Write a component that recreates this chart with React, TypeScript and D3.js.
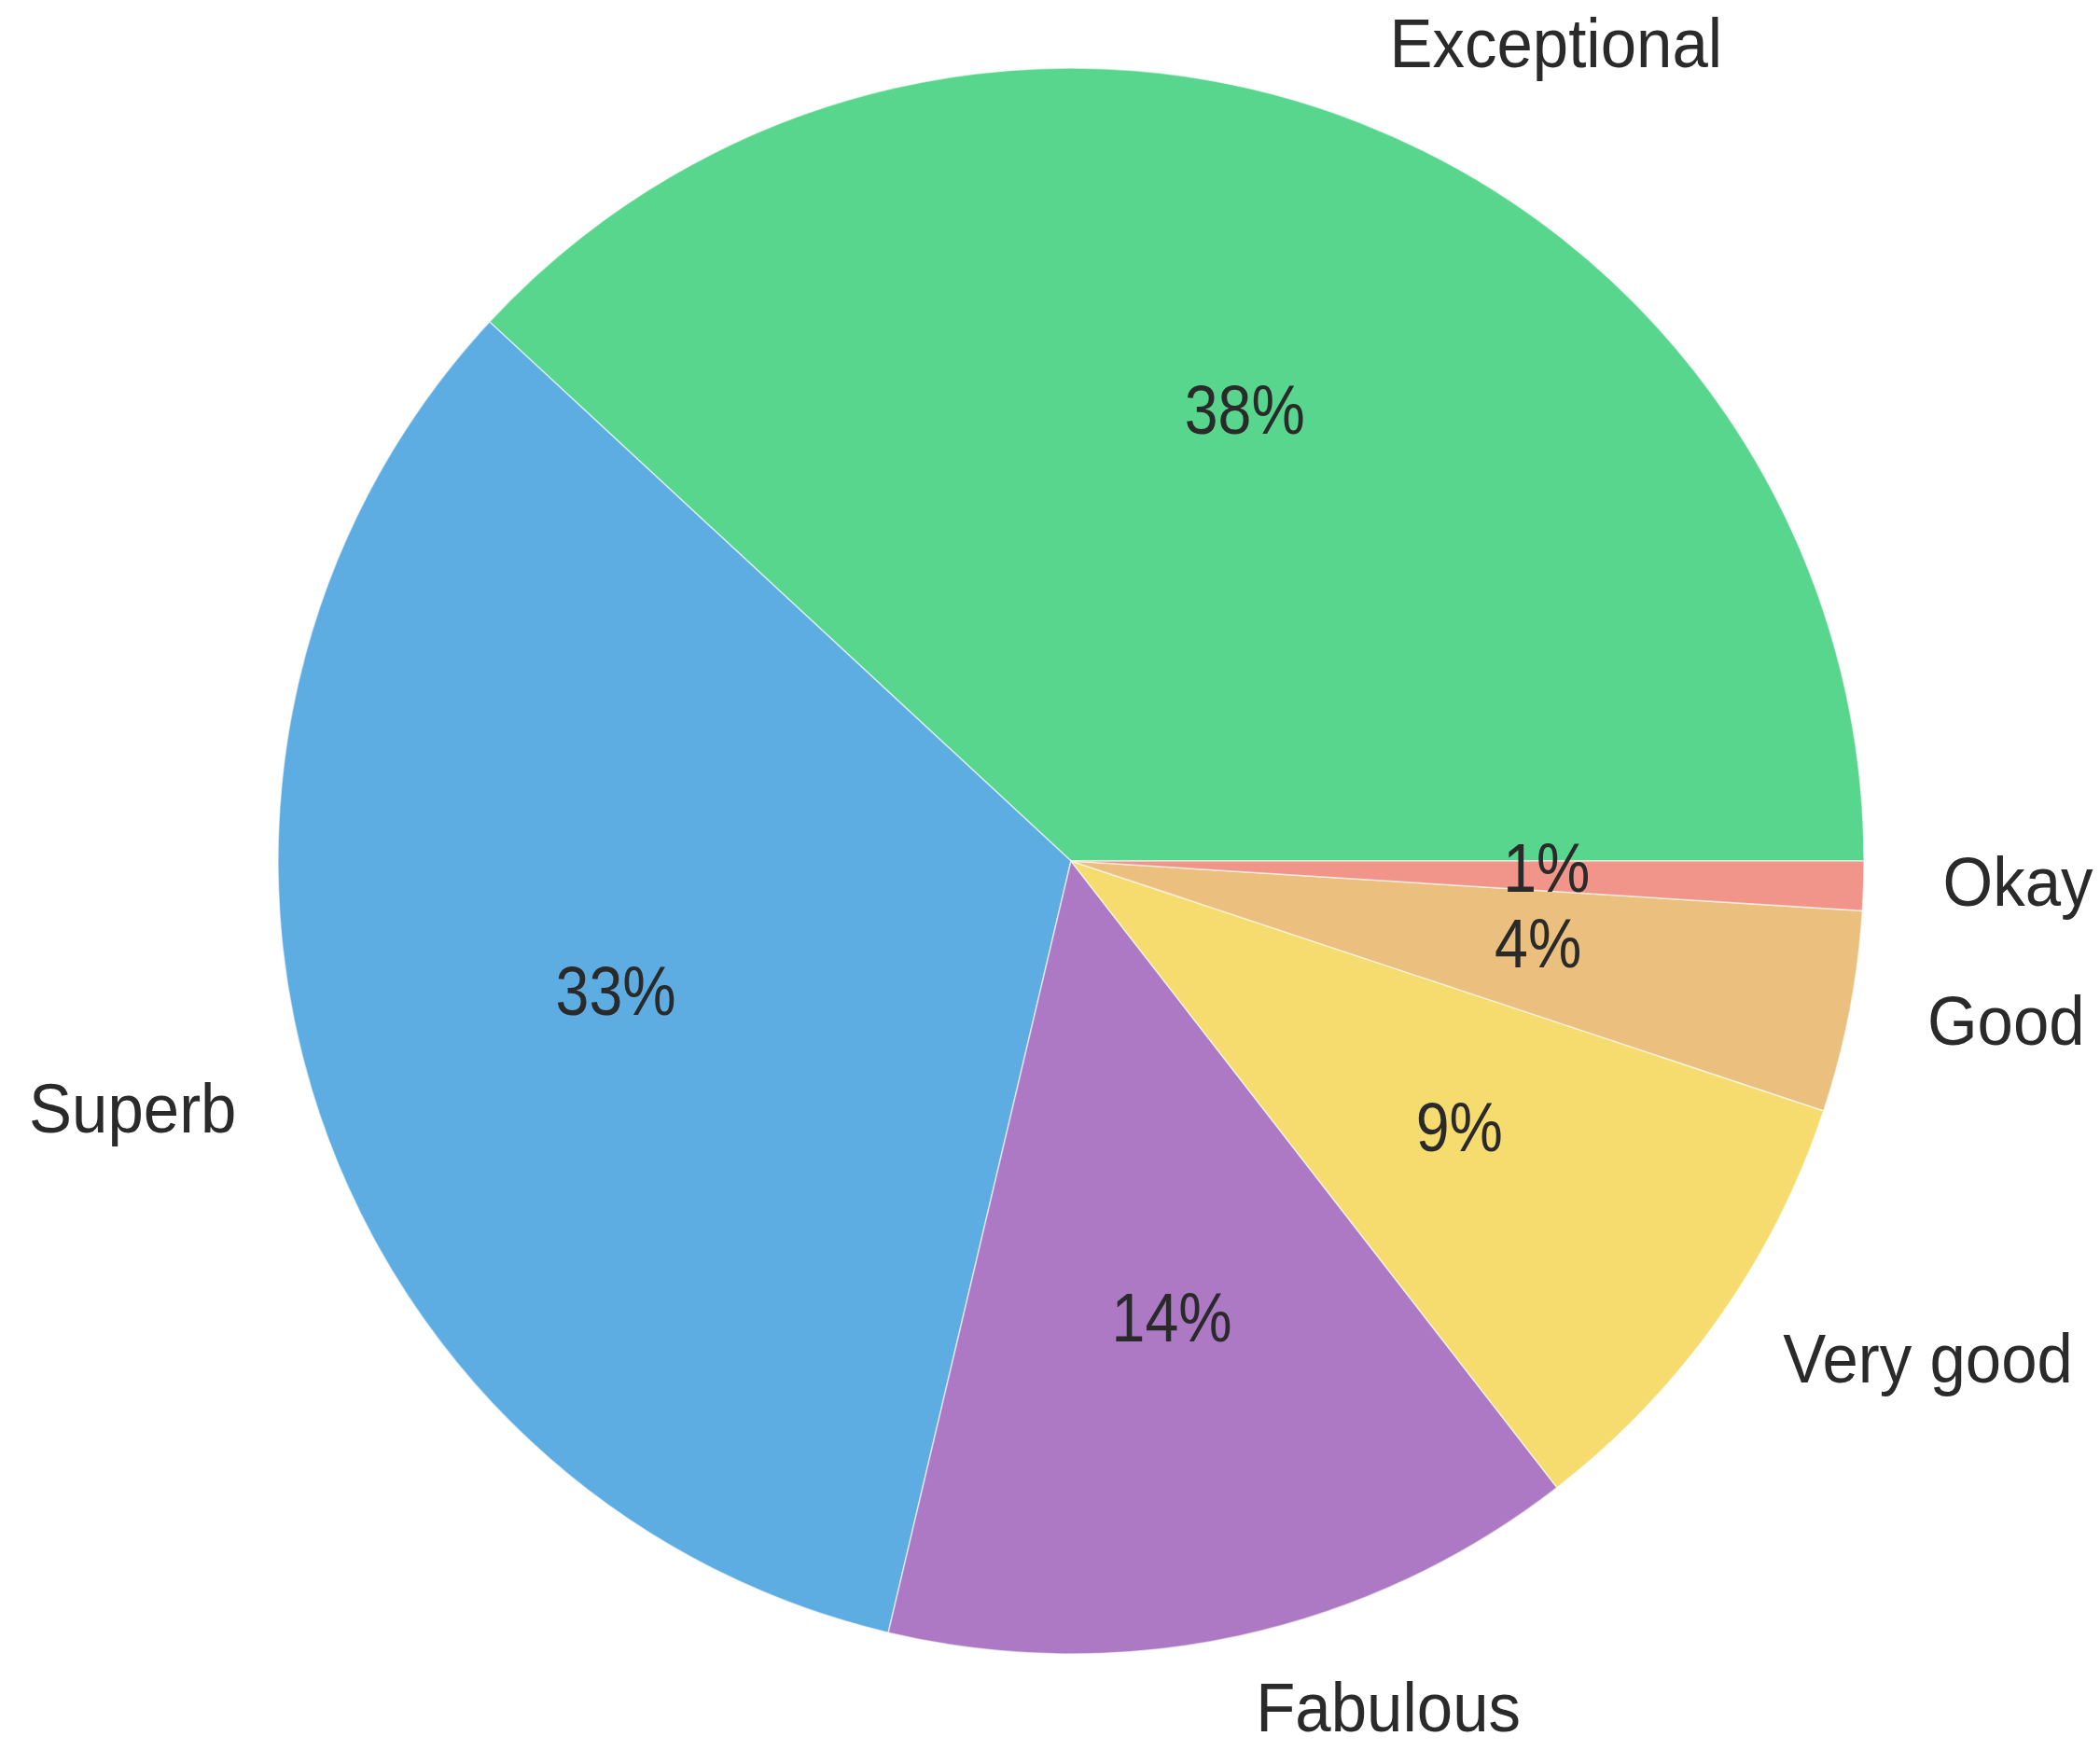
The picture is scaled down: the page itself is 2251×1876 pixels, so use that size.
import React, { useRef, useEffect } from 'react';
import * as d3 from 'd3';

const labels = ['Exceptional', 'Superb', 'Fabulous', 'Very good', 'Good', 'Okay'];
const shares = [38.1, 33.2, 14.2, 9.4, 4.1, 1.0];
const colors = ['#58D68D', '#5DADE2', '#AD79C5', '#F6DC6F', '#EBBF7E', '#F1948A'];

const width = 2251;
const height = 1876;

const App = () => {
  const svgRef = useRef(null);

  useEffect(() => {
    const svg = d3.select(svgRef.current);
    svg.selectAll('*').remove();

    const cx = 1148;
    const cy = 923;
    const r = 850;
    const fontSize = 75;

    const data = labels.map((label, i) => ({ label, value: shares[i], color: colors[i] }));

    // matplotlib style: start at 3 o'clock, counterclockwise
    const pie = d3.pie()
      .value(d => d.value)
      .sort(null)
      .startAngle(Math.PI / 2)
      .endAngle(Math.PI / 2 - 2 * Math.PI);

    const arcs = pie(data);
    const arc = d3.arc().innerRadius(0).outerRadius(r);

    const g = svg.append('g').attr('transform', `translate(${cx},${cy})`);

    g.selectAll('path.slice')
      .data(arcs)
      .enter()
      .append('path')
      .attr('class', 'slice')
      .attr('d', arc)
      .attr('fill', d => d.data.color)
      .attr('stroke', '#ffffff')
      .attr('stroke-opacity', 0.6)
      .attr('stroke-width', 1.5);

    const total = d3.sum(shares);
    const pos = (d, k) => {
      const a = (d.startAngle + d.endAngle) / 2; // d3 angle, clockwise from 12
      return [k * r * Math.sin(a), -k * r * Math.cos(a)];
    };

    // the reference glyphs are a bit condensed, squeeze horizontally
    g.selectAll('text.pct')
      .data(arcs)
      .enter()
      .append('text')
      .attr('class', 'pct')
      .attr('transform', d => `translate(${pos(d, 0.6)[0]},${pos(d, 0.6)[1] - 9}) scale(0.86,1)`)
      .attr('text-anchor', 'middle')
      .attr('dominant-baseline', 'central')
      .attr('font-family', '"Liberation Sans", Arial, sans-serif')
      .attr('font-size', fontSize)
      .attr('fill', '#2a2a2a')
      .text(d => `${Math.round((d.data.value / total) * 100)}%`);

    g.selectAll('text.lbl')
      .data(arcs)
      .enter()
      .append('text')
      .attr('class', 'lbl')
      .attr('transform', d => `translate(${pos(d, 1.1)[0]},${pos(d, 1.1)[1] - 7}) scale(0.92,1)`)
      .attr('text-anchor', d => (pos(d, 1.1)[0] > 0 ? 'start' : 'end'))
      .attr('dominant-baseline', 'central')
      .attr('font-family', '"Liberation Sans", Arial, sans-serif')
      .attr('font-size', fontSize)
      .attr('fill', '#2a2a2a')
      .text(d => d.data.label);
  }, []);

  return (
    <div style={{ position: 'absolute', left: 0, top: 0 }}>
      <svg ref={svgRef} width={width} height={height} style={{ display: 'block', background: '#fff' }}></svg>
    </div>
  );
};

export default App;
